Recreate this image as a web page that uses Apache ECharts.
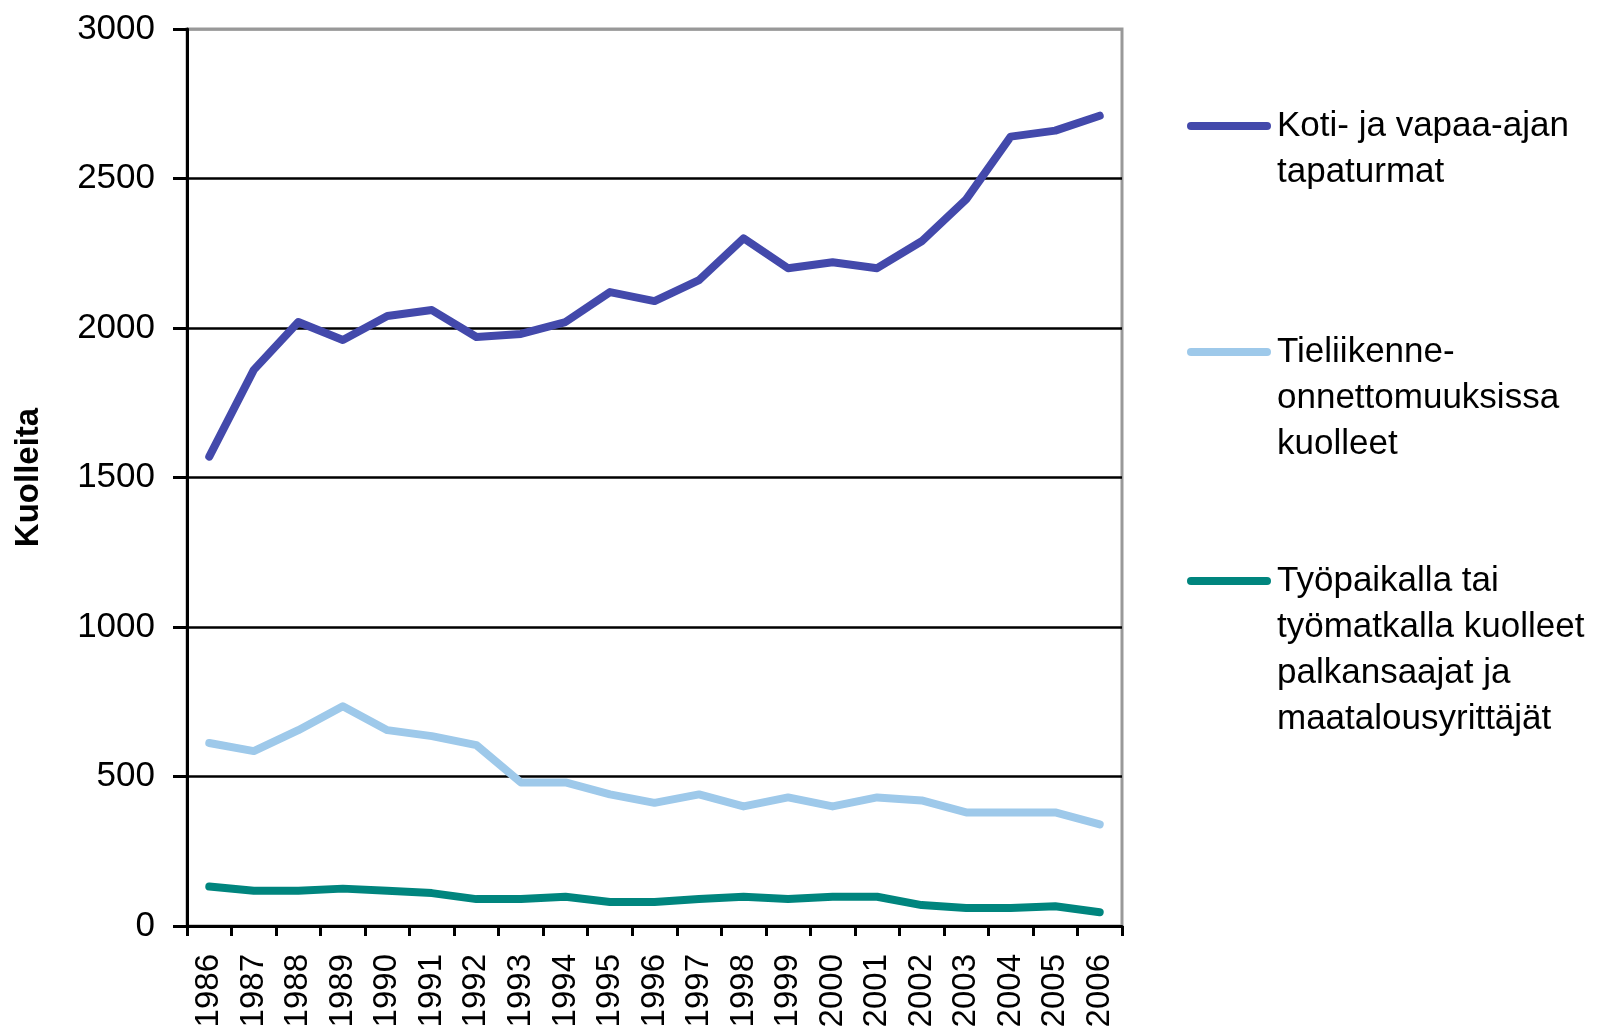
<!DOCTYPE html>
<html>
<head>
<meta charset="utf-8">
<title>Kuolleita</title>
<script src="https://cdn.jsdelivr.net/npm/echarts@6/dist/echarts.min.js"></script>
<style>
  html, body { margin: 0; padding: 0; background: #fff; }
  #main { width: 1623px; height: 1026px; }
</style>
</head>
<body>
<div id="main"></div>
<script>
// vuodet
var years = ['1986', '1987', '1988', '1989', '1990', '1991', '1992', '1993', '1994', '1995', '1996',
  '1997', '1998', '1999', '2000', '2001', '2002', '2003', '2004', '2005', '2006'];

// sarjojen nimet (legendassa rivitetty)
var names = [
  'Koti- ja vapaa-ajan\ntapaturmat',
  'Tieliikenne-\nonnettomuuksissa\nkuolleet',
  'Työpaikalla tai\ntyömatkalla kuolleet\npalkansaajat ja\nmaatalousyrittäjät'
];

var koti = [1570, 1860, 2020, 1960, 2040, 2060, 1970, 1980, 2020, 2120, 2090,
  2160, 2300, 2200, 2220, 2200, 2290, 2430, 2640, 2660, 2710];
var tieliikenne = [612, 585, 655, 735, 655, 635, 605, 480, 480, 440, 412,
  440, 400, 430, 400, 430, 420, 380, 380, 380, 340];
var tyopaikka = [132, 118, 118, 125, 118, 110, 90, 90, 98, 80, 80,
  90, 98, 90, 98, 98, 70, 60, 60, 66, 46];

var yTicks = [0, 500, 1000, 1500, 2000, 2500, 3000];

var colors = ['#4349ab', '#9ec9ea', '#00857e'];
var font = 'Liberation Sans, Arial, sans-serif';

var chart = echarts.init(document.getElementById('main'));

function makeSeries(name, data, color) {
  return {
    name: name,
    type: 'line',
    data: data,
    symbol: 'none',
    smooth: false,
    lineStyle: { color: color, width: 8, cap: 'round', join: 'round' }
  };
}

// legenda piirretään käsin, jotta viiva osuu ensimmäiselle riville
var legendY = [126, 352, 581];
var graphics = [];
for (var i = 0; i < names.length; i++) {
  graphics.push({
    type: 'line',
    shape: { x1: 1191, y1: legendY[i], x2: 1267, y2: legendY[i] },
    style: { stroke: colors[i], lineWidth: 8, lineCap: 'round' }
  });
  graphics.push({
    type: 'text',
    x: 1277,
    y: legendY[i] - 23,
    style: {
      text: names[i],
      font: '35px ' + font,
      lineHeight: 46,
      fill: '#000',
      verticalAlign: 'top'
    }
  });
}

var option = {
  animation: false,
  backgroundColor: '#fff',
  grid: {
    left: 187,
    right: 501,
    top: 29,
    bottom: 100,
    outerBoundsMode: 'none',
    show: true,
    borderColor: '#999',
    borderWidth: 3
  },
  xAxis: {
    type: 'category',
    data: years,
    boundaryGap: true,
    axisLine: { lineStyle: { color: '#000', width: 3 } },
    axisTick: { show: true, interval: 0, length: 10, lineStyle: { color: '#000', width: 3 } },
    axisLabel: {
      interval: 0,
      rotate: 90,
      margin: 28,
      color: '#000',
      fontSize: 33,
      fontFamily: font
    }
  },
  yAxis: {
    type: 'value',
    min: yTicks[0],
    max: yTicks[yTicks.length - 1],
    interval: 500,
    name: 'Kuolleita',
    nameLocation: 'middle',
    nameGap: 142,
    nameTextStyle: { color: '#000', fontSize: 33, fontWeight: 'bold', fontFamily: font },
    axisLine: { show: true, lineStyle: { color: '#000', width: 3 } },
    axisTick: { show: true, length: 14, lineStyle: { color: '#000', width: 3 } },
    axisLabel: {
      margin: 32,
      color: '#000',
      fontSize: 35,
      fontFamily: font,
      formatter: function (v) { return String(v); }
    },
    splitLine: {
      show: true,
      lineStyle: { color: ['#000', '#000', '#000', '#000', '#000', '#000', '#999'], width: 2.5 }
    }
  },
  graphic: graphics,
  series: [
    makeSeries(names[0], koti, colors[0]),
    makeSeries(names[1], tieliikenne, colors[1]),
    makeSeries(names[2], tyopaikka, colors[2])
  ]
};

chart.setOption(option);
</script>
</body>
</html>
